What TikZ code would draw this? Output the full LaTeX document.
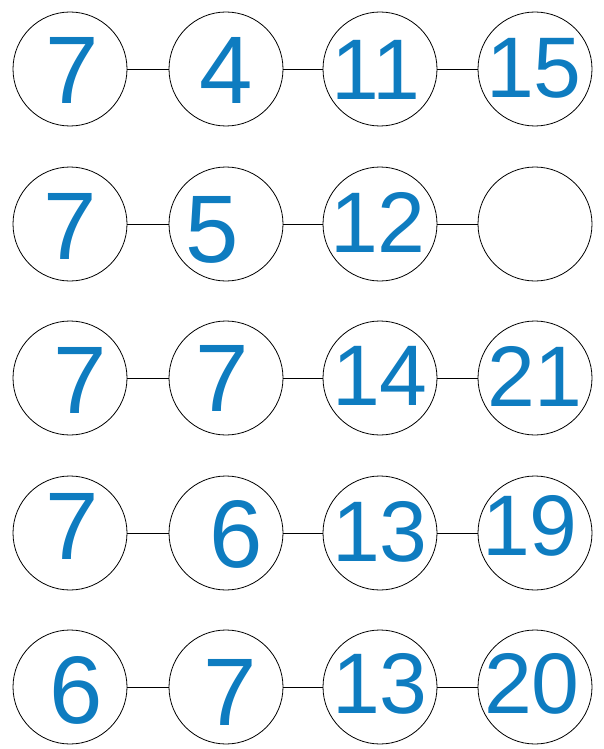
\documentclass[tikz,border=0pt]{standalone}
\usepackage{fontspec}
\setmainfont{Liberation Sans}
\definecolor{ink}{RGB}{14,124,192}
\begin{document}
\begin{tikzpicture}[x=1pt,y=-1pt,
  ring/.style={circle,draw=black,line width=0.8pt,minimum size=114pt,inner sep=0pt},
  digits/.style={text=ink,font=\fontsize{96}{96}\selectfont},
  pair/.style={text=ink,font=\fontsize{86}{86}\selectfont},
  link/.style={draw=black,line width=0.8pt}]
\useasboundingbox (0,0) rectangle (603,749);
\foreach \r/\y in {1/69,2/224,3/378,4/533,5/687}{
  \foreach \c/\x in {1/70,2/226,3/380,4/535}{
    \node[ring] (n\r\c) at (\x,\y) {};
  }
  \draw[link] (n\r1) -- (n\r2);
  \draw[link] (n\r2) -- (n\r3);
  \draw[link] (n\r3) -- (n\r4);
}
% row 1
\node[digits] (t11) at (72,70) {7};
\node[digits] (t12) at (226,70) {4};
\node[pair] (t13) at (376,70) {11};
\node[pair] (t14) at (534,68) {15};
% row 2
\node[digits] (t21) at (70,226) {7};
\node[digits] (t22) at (212,230) {5};
\node[pair] (t23) at (378,222) {12};
% row 3
\node[digits] (t31) at (80,380) {7};
\node[digits] (t32) at (222,378) {7};
\node[pair] (t33) at (380,376) {14};
\node[pair] (t34) at (535,376) {21};
% row 4
\node[digits] (t41) at (72,526) {7};
\node[digits] (t42) at (236,534) {6};
\node[pair] (t43) at (380,532) {13};
\node[pair] (t44) at (530,526) {19};
% row 5
\node[digits] (t51) at (76,690) {6};
\node[digits] (t52) at (230,692) {7};
\node[pair] (t53) at (380,684) {13};
\node[pair] (t54) at (532,684) {20};
\end{tikzpicture}
\end{document}
